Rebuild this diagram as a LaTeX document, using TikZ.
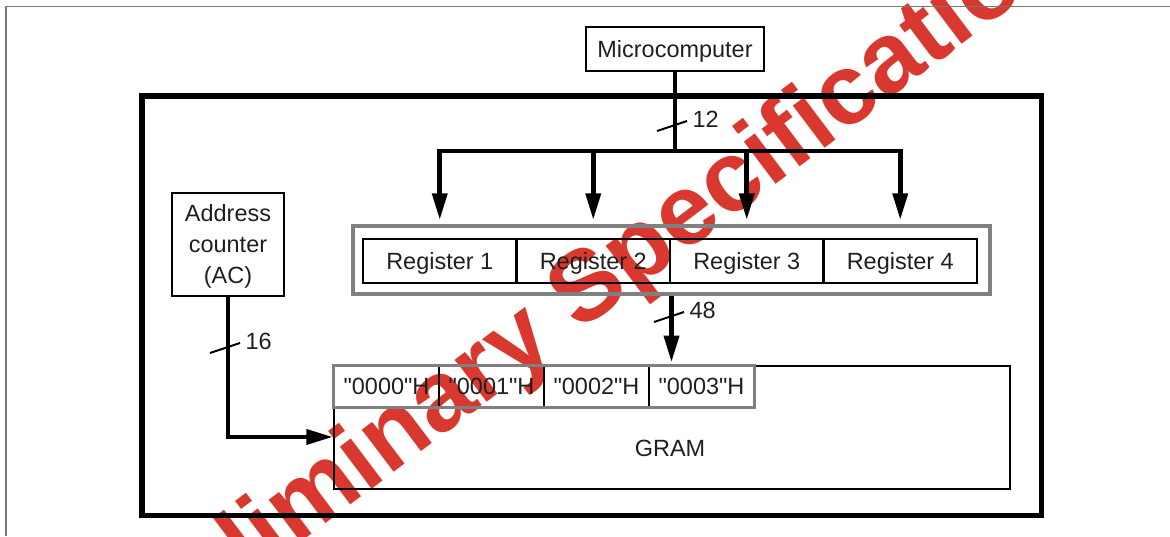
\documentclass[tikz,border=0pt]{standalone}
\usepackage{fontspec}
\setmainfont{Liberation Sans}
\newfontfamily\diafont{Liberation Sans}
\usetikzlibrary{arrows.meta}
\definecolor{wmred}{RGB}{216,56,46}
\definecolor{boxgray}{RGB}{128,128,128}
\definecolor{pagegray}{RGB}{120,120,120}
\begin{document}
\begin{tikzpicture}[x=0.75pt,y=-0.75pt,
  txt/.style={font=\diafont\fontsize{17.6}{23}\selectfont, text=black!88},
  box/.style={draw=black, line width=1.5pt, inner sep=0pt, txt, text depth=0pt},
  regcell/.style={box, minimum width=115.1pt, minimum height=33pt},
  addrcell/.style={txt, inner sep=0pt, minimum width=78.75pt, minimum height=30.75pt},
  busline/.style={line width=3.5pt, line join=miter},
  tip/.style={-{Triangle[width=11pt,length=20pt]}},
  tickln/.style={line width=1.5pt},
  lbl/.style={txt, anchor=west, inner sep=0pt, xshift=3.5pt, yshift=1.5pt}]
\useasboundingbox (0,0) rectangle (1170,536);
\clip (0,0) rectangle (1170,536);
% watermark (behind)
\node[font=\diafont\bfseries\fontsize{75}{75}\selectfont, text=wmred, rotate=37, inner sep=0pt] (wm) at (584,297) {Preliminary Specification};
% page border
\draw[pagegray, line width=1.1pt] (6,536) -- (6,6.5) -- (1170,6.5);
% main frame
\node[draw, line width=4.1pt, minimum width=674.6pt, minimum height=314.6pt, inner sep=0pt] (frame) at (591.75,305.75) {};
% boxes
\node[box, minimum width=133.5pt, minimum height=33pt] (mc) at (675,49) {Microcomputer};
\node[box, minimum width=84pt, minimum height=77.25pt] (ac) at (228,244.5) {};
\node[txt, align=center, inner sep=0pt] (actext) at (228,246.5) {Address\\counter\\(AC)};
\node[draw=boxgray, line width=3.4pt, minimum width=477.75pt, minimum height=51pt, inner sep=0pt] (regbox) at (671.5,260) {};
\node[regcell] (r1) at (439.75,261) {Register 1};
\node[regcell] (r2) at (593.25,261) {Register 2};
\node[regcell] (r3) at (746.75,261) {Register 3};
\node[regcell] (r4) at (900.25,261) {Register 4};
\node[box, minimum width=507pt, minimum height=92.25pt] (gram) at (672,427.5) {};
\node[txt] (gramlabel) at (670,448) {GRAM};
\node[addrcell] (c0) at (386.5,386.5) {"0000"H};
\node[addrcell] (c1) at (491.5,386.5) {"0001"H};
\node[addrcell] (c2) at (596.5,386.5) {"0002"H};
\node[addrcell] (c3) at (701.5,386.5) {"0003"H};
\draw[boxgray, line width=1.9pt] (c0.north west) rectangle (c3.south east);
\foreach \c in {c0,c1,c2} \draw[line width=1.5pt] ([yshift=-1pt]\c.north east) -- ([yshift=1pt]\c.south east);
% connectors
\coordinate (bus) at (675,151);
\draw[busline] (mc.south) -- (mc.south |- bus);
\draw[busline, {Triangle[width=11pt,length=20pt]}-{Triangle[width=11pt,length=20pt]}, shorten >=2.8pt, shorten <=2.8pt]
  (r1 |- regbox.north) |- (bus) -| (r4 |- regbox.north);
\draw[busline, tip, shorten >=2.8pt] (r2 |- bus) -- (r2 |- regbox.north);
\draw[busline, tip, shorten >=2.8pt] (r3 |- bus) -- (r3 |- regbox.north);
\draw[busline, tip, shorten >=2pt] (regbox.south) -- (regbox.south |- gram.north);
\draw[busline, tip] (ac.south) |- ([yshift=-7.1pt]gram.west);
% bus width ticks
\coordinate (t12) at (675,126);
\coordinate (t48) at (672,317);
\coordinate (t16) at (228,348);
\draw[tickln] (t12) ++(-18,5) -- ++(30,-10) node[lbl] (l12) {12};
\draw[tickln] (t48) ++(-18,5) -- ++(30,-10) node[lbl] (l48) {48};
\draw[tickln] (t16) ++(-18,5) -- ++(30,-10) node[lbl] (l16) {16};
\end{tikzpicture}
\end{document}
